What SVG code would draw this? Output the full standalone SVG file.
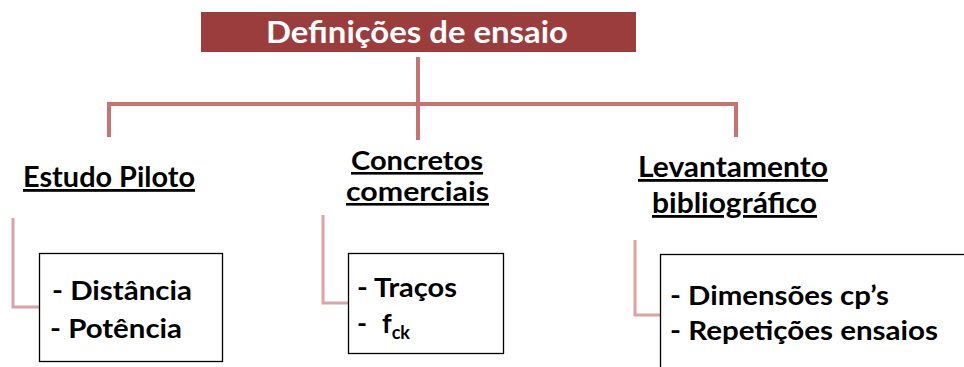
<svg xmlns="http://www.w3.org/2000/svg" width="964" height="367" viewBox="0 0 964 367">
<style>
.t{font-family:Lato,"Open Sans","Liberation Sans",sans-serif;font-weight:bold;fill:#000}
.h{font-size:28px;text-decoration:underline}
.h2{font-size:26px;text-decoration:underline}
.i{font-size:27px}
.box{fill:#fff;stroke:#000;stroke-width:1.3}
.main{fill:none;stroke:#C87272;stroke-width:4}
.side{fill:none;stroke:#DBA3A3;stroke-width:3}
</style>
<rect width="964" height="367" fill="#fff"/>
<g id="connectors">
<path class="main" d="M418 57V140M109 137V104H736V137"/>
<path class="side" d="M13 218V307H40"/>
<path class="side" d="M323 215V303H348"/>
<path class="side" d="M635 240V315H660"/>
</g>
<g id="title">
<rect x="201" y="12" width="435" height="40" fill="#9B3D3D"/>
<text class="t" x="266" y="43" font-size="31" style="fill:#fff" textLength="302" lengthAdjust="spacingAndGlyphs">Definições de ensaio</text>
</g>
<g id="estudo-piloto">
<text class="t h" x="23" y="187" textLength="172" lengthAdjust="spacingAndGlyphs">Estudo Piloto</text>
</g>
<g id="concretos-comerciais">
<text class="t h2" x="351" y="170" textLength="132" lengthAdjust="spacingAndGlyphs">Concretos</text>
<text class="t h2" x="346" y="201" textLength="143" lengthAdjust="spacingAndGlyphs">comerciais</text>
</g>
<g id="levantamento">
<text class="t h" x="638" y="177" textLength="190" lengthAdjust="spacingAndGlyphs">Levantamento</text>
<text class="t h" x="652" y="213" textLength="165" lengthAdjust="spacingAndGlyphs">bibliográfico</text>
</g>
<g id="box-piloto">
<rect class="box" x="39.5" y="253.5" width="183" height="108"/>
<text class="t i" x="52" y="300" textLength="140" lengthAdjust="spacingAndGlyphs">- Distância</text>
<text class="t i" x="50" y="338" textLength="132" lengthAdjust="spacingAndGlyphs">- Potência</text>
</g>
<g id="box-concretos">
<rect class="box" x="348.5" y="253.5" width="155" height="100"/>
<text class="t i" x="357" y="297" textLength="100" lengthAdjust="spacingAndGlyphs">- Traços</text>
<text class="t i" x="357" y="333">-</text>
<text class="t i" x="382" y="333">f<tspan font-size="18" dy="6">ck</tspan></text>
</g>
<g id="box-levantamento">
<rect class="box" x="660.5" y="254.5" width="320" height="130"/>
<text class="t i" x="670" y="305" textLength="219" lengthAdjust="spacingAndGlyphs">- Dimensões cp’s</text>
<text class="t i" x="670" y="340" textLength="268" lengthAdjust="spacingAndGlyphs">- Repetições ensaios</text>
</g>
</svg>
